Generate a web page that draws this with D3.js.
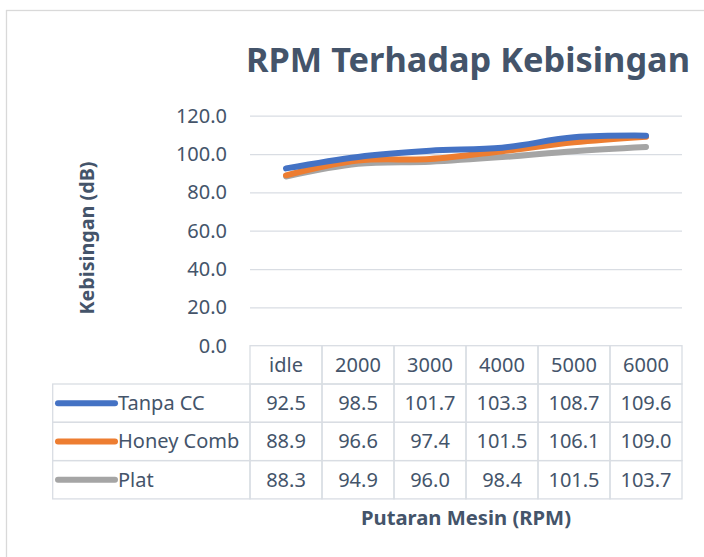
<!DOCTYPE html>
<html lang="id">
<head>
    <meta charset="UTF-8">
    <title>RPM Terhadap Kebisingan</title>
    <script src="https://cdn.jsdelivr.net/npm/d3@7"></script>
    <style>
        body { margin: 0; background: #fff; }
        svg { font-family: "Noto Sans", "Open Sans", sans-serif; }
        .grid line { stroke: #D9DDE3; stroke-width: 1.3px; }
        .cell { fill: none; stroke: #D9DDE3; stroke-width: 1.3px; }
        .line { fill: none; stroke-width: 6px; stroke-linecap: round; stroke-linejoin: round; }
    </style>
</head>
<body>
<div id="chart"></div>
<script>
    // data
    const categories = ["idle", "2000", "3000", "4000", "5000", "6000"];
    const seriesNames = ["Tanpa CC", "Honey Comb", "Plat"];
    const tanpaCC   = [92.5, 98.5, 101.7, 103.3, 108.7, 109.6];
    const honeyComb = [88.9, 96.6, 97.4, 101.5, 106.1, 109.0];
    const plat      = [88.3, 94.9, 96.0, 98.4, 101.5, 103.7];
    const yTicks = [0, 20, 40, 60, 80, 100, 120];
    const colors = ["#4472C4", "#ED7D31", "#A5A5A5"];

    const series = seriesNames.map((name, i) => ({
        name: name,
        values: [tanpaCC, honeyComb, plat][i],
        color: colors[i]
    }));

    const W = 704, H = 557;
    const textColor = "#44546A";

    // plot area / table geometry
    const plotLeft = 250, plotRight = 682;
    const plotTop = 115.7, plotBottom = 345.7;
    const rowH = 38.3;
    const tableLeft = 52.7;

    const svg = d3.select("#chart").append("svg")
        .attr("width", W)
        .attr("height", H);

    // outer chart border (runs off the right and bottom edges)
    svg.append("rect")
        .attr("x", 6.5).attr("y", 10.5)
        .attr("width", W + 10).attr("height", H + 10)
        .attr("fill", "#fff")
        .attr("stroke", "#D9D9D9")
        .attr("stroke-width", 1.3);

    const x = d3.scaleBand().domain(categories).range([plotLeft, plotRight]).padding(0);
    const y = d3.scaleLinear().domain([0, 120]).range([plotBottom, plotTop]);

    // title
    svg.append("text")
        .attr("x", 246)
        .attr("y", 71.5)
        .attr("fill", textColor)
        .attr("font-size", 34)
        .attr("font-weight", "bold")
        .attr("textLength", 444)
        .attr("lengthAdjust", "spacingAndGlyphs")
        .text("RPM Terhadap Kebisingan");

    // y axis with gridlines
    const yAxis = svg.append("g")
        .attr("class", "grid")
        .attr("transform", `translate(${plotLeft},0)`)
        .call(d3.axisLeft(y)
            .tickValues(yTicks)
            .tickFormat(d3.format(".1f"))
            .tickSize(-(plotRight - plotLeft))
            .tickPadding(23));
    yAxis.select(".domain").remove();
    yAxis.selectAll("text")
        .attr("fill", textColor)
        .attr("font-size", 20)
        .attr("font-family", "'Noto Sans', 'Open Sans', sans-serif");
    yAxis.selectAll(".tick").filter(d => d === 0).select("line").remove();

    // y axis title
    svg.append("text")
        .attr("transform", `translate(94,238) rotate(-90)`)
        .attr("text-anchor", "middle")
        .attr("fill", textColor)
        .attr("font-size", 19)
        .attr("font-weight", "bold")
        .attr("textLength", 153)
        .attr("lengthAdjust", "spacingAndGlyphs")
        .text("Kebisingan (dB)");

    // lines
    const line = d3.line()
        .x((d, i) => x(categories[i]) + x.bandwidth() / 2)
        .y(d => y(d))
        .curve(d3.curveCatmullRom.alpha(0.5));

    svg.selectAll(".line")
        .data(series.slice().reverse())
        .join("path")
        .attr("class", "line")
        .attr("stroke", d => d.color)
        .attr("d", d => line(d.values));

    // data table: header row
    const table = svg.append("g");
    table.selectAll(".hcell")
        .data(categories)
        .join("rect")
        .attr("class", "cell")
        .attr("x", d => x(d))
        .attr("y", plotBottom)
        .attr("width", x.bandwidth())
        .attr("height", rowH);
    table.selectAll(".htext")
        .data(categories)
        .join("text")
        .attr("x", d => x(d) + x.bandwidth() / 2)
        .attr("y", plotBottom + rowH / 2)
        .attr("dy", "0.35em")
        .attr("text-anchor", "middle")
        .attr("fill", textColor)
        .attr("font-size", 20)
        .text(d => d);

    // series rows
    const rows = table.selectAll(".row")
        .data(series)
        .join("g")
        .attr("transform", (d, i) => `translate(0,${plotBottom + rowH * (i + 1)})`);

    rows.append("rect")
        .attr("class", "cell")
        .attr("x", tableLeft)
        .attr("width", plotLeft - tableLeft)
        .attr("height", rowH);
    rows.append("line")
        .attr("x1", 58).attr("x2", 115)
        .attr("y1", rowH / 2).attr("y2", rowH / 2)
        .attr("stroke", d => d.color)
        .attr("stroke-width", 6)
        .attr("stroke-linecap", "round");
    rows.append("text")
        .attr("x", 118)
        .attr("y", rowH / 2)
        .attr("dy", "0.35em")
        .attr("fill", textColor)
        .attr("font-size", 20)
        .text(d => d.name);

    rows.selectAll(".vcell")
        .data(d => d.values.map((v, i) => ({ cat: categories[i], v: v })))
        .join("rect")
        .attr("class", "cell")
        .attr("x", d => x(d.cat))
        .attr("width", x.bandwidth())
        .attr("height", rowH);
    rows.selectAll(".vtext")
        .data(d => d.values.map((v, i) => ({ cat: categories[i], v: v })))
        .join("text")
        .attr("x", d => x(d.cat) + x.bandwidth() / 2)
        .attr("y", rowH / 2)
        .attr("dy", "0.35em")
        .attr("text-anchor", "middle")
        .attr("fill", textColor)
        .attr("font-size", 20)
        .text(d => d3.format(".1f")(d.v));

    // x axis title
    svg.append("text")
        .attr("x", (plotLeft + plotRight) / 2)
        .attr("y", 525)
        .attr("text-anchor", "middle")
        .attr("fill", textColor)
        .attr("font-size", 20)
        .attr("font-weight", "bold")
        .attr("textLength", 210)
        .attr("lengthAdjust", "spacingAndGlyphs")
        .text("Putaran Mesin (RPM)");
</script>
</body>
</html>
